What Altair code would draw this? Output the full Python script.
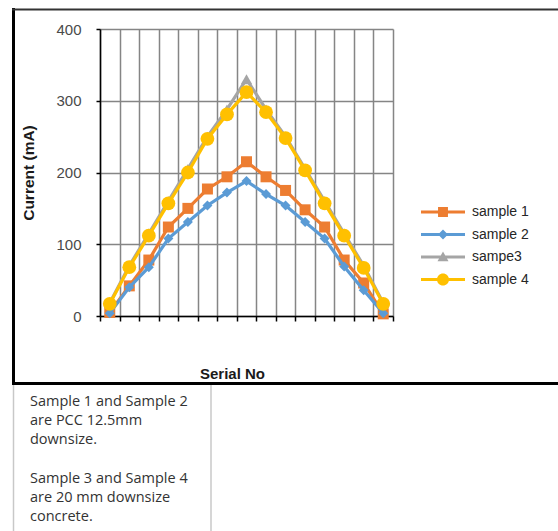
import altair as alt
import pandas as pd

serial = list(range(1, 16))
names = ["sample 1", "sample 2", "sampe3", "sample 4"]
sample1 = [5, 42, 78, 124, 150, 177, 194, 215, 194, 175, 148, 124, 78, 46, 3]
sample2 = [4, 40, 68, 108, 131, 154, 172, 188, 170, 154, 131, 108, 69, 36, 4]
sample3 = [18, 70, 115, 160, 205, 250, 288, 330, 288, 250, 205, 160, 115, 70, 18]
sample4 = [17, 68, 112, 157, 200, 247, 281, 312, 284, 248, 203, 157, 112, 67, 17]
colors = ["#ED7D31", "#5B9BD5", "#A5A5A5", "#FFC000"]
shapes = ["square", "diamond", "triangle-up", "circle"]
sizes = [121, 100, 130, 190]
y_ticks = [0, 100, 200, 300, 400]
note_block1 = ["Sample 1 and Sample 2", "are PCC 12.5mm", "downsize."]
note_block2 = ["Sample 3 and Sample 4", "are 20 mm downsize", "concrete."]

series_values = [sample1, sample2, sample3, sample4]
rows = []
for name, vals in zip(names, series_values):
    for s, v in zip(serial, vals):
        rows.append({"serial": s, "value": v, "series": name})
df = pd.DataFrame(rows)

x_grid = [i + 0.5 for i in range(0, 16)]

x_enc = alt.X(
    "serial:Q",
    scale=alt.Scale(domain=[0.5, 15.5], nice=False, zero=False),
    axis=alt.Axis(
        values=x_grid, labels=False, ticks=True, tickSize=5, tickColor="#000000",
        tickWidth=1.5, domainColor="#000000", domainWidth=1.5,
        grid=True, gridColor="#858585", gridWidth=1.5,
        title="Serial No", titleFont="Liberation Sans", titleFontSize=15,
        titleFontWeight="bold", titleColor="#1a1a1a",
        titleX=132, titleY=57, titleBaseline="middle", titleAlign="center",
    ),
)
y_enc = alt.Y(
    "value:Q",
    scale=alt.Scale(domain=[0, 400], nice=False),
    axis=alt.Axis(
        values=y_ticks, tickSize=4, tickColor="#000000", tickWidth=1.5,
        domainColor="#000000", domainWidth=1.5,
        grid=True, gridColor="#858585", gridWidth=1.5,
        labelFont="Liberation Sans", labelFontSize=15, labelColor="#4a4a4a",
        labelPadding=15,
        title="Current (mA)", titleFont="Liberation Sans", titleFontSize=15.5,
        titleFontWeight="bold", titleColor="#1a1a1a",
        titleAngle=270, titleX=-72, titleY=143.5, titleBaseline="middle",
        titleAlign="center",
    ),
)

base = alt.Chart(df)
layers = []
for name, col, shp, sz in zip(names, colors, shapes, sizes):
    sub = base.transform_filter(alt.datum.series == name)
    layers.append(sub.mark_line(color=col, strokeWidth=3.2).encode(x=x_enc, y=y_enc))
    layers.append(
        sub.mark_point(filled=True, color=col, shape=shp, size=sz, opacity=1).encode(x=x_enc, y=y_enc)
    )

# legend symbols: line + marker as custom paths
bar = "M-2,-0.14H2V0.14H-2Z "
legend_paths = [
    bar + "M-0.45,-0.45H0.45V0.45H-0.45Z",
    bar + "M0,-0.45L0.45,0L0,0.45L-0.45,0Z",
    bar + "M0,-0.5L0.5,0.38L-0.5,0.38Z",
    bar + "M0.55,0A0.55,0.55 0 1,1 -0.55,0A0.55,0.55 0 1,1 0.55,0Z",
]
leg = alt.Legend(
    title=None, orient="none", legendX=332, legendY=172,
    symbolSize=484, symbolStrokeWidth=0, symbolOpacity=1,
    labelOffset=18, labelFont="Liberation Sans", labelFontSize=14,
    labelColor="#262626", rowPadding=4.5, padding=0,
)
legend_layer = base.transform_filter(alt.datum.value < 0).mark_point(filled=True).encode(
    x=x_enc, y=y_enc,
    color=alt.Color("series:N", scale=alt.Scale(domain=names, range=colors), legend=leg),
    shape=alt.Shape("series:N", scale=alt.Scale(domain=names, range=legend_paths), legend=leg),
)
layers.append(legend_layer)

one = alt.Chart(pd.DataFrame({"a": [0]}))
text_style = dict(align="left", baseline="top", font="Open Sans", fontSize=14.5,
                  color="#333333", lineBreak="\n", lineHeight=19.2)
frame = [
    one.mark_rule(color="#000000", strokeWidth=3).encode(
        x=alt.value(-86.5), y=alt.value(-21), y2=alt.value(356)),
    one.mark_rule(color="#333333", strokeWidth=2).encode(
        x=alt.value(-88), x2=alt.value(470), y=alt.value(-19.5)),
    one.mark_rule(color="#000000", strokeWidth=3).encode(
        x=alt.value(-88), x2=alt.value(470), y=alt.value(354.5)),
    one.mark_rule(color="#c8c8c8", strokeWidth=1.5).encode(
        x=alt.value(-86.5), y=alt.value(356), y2=alt.value(510)),
    one.mark_rule(color="#c8c8c8", strokeWidth=1.5).encode(
        x=alt.value(111), y=alt.value(356), y2=alt.value(510)),
    one.mark_text(**text_style).encode(
        x=alt.value(-70), y=alt.value(366), text=alt.value("\n".join(note_block1))),
    one.mark_text(**text_style).encode(
        x=alt.value(-70), y=alt.value(443), text=alt.value("\n".join(note_block2))),
]

chart = alt.layer(*frame, *layers).properties(
    width=293, height=287,
    autosize=alt.AutoSizeParams(type="none"),
    padding={"left": 100, "top": 29, "right": 165, "bottom": 215},
    background="#ffffff",
).configure_view(stroke="transparent")

chart.save("out.html", embed_options={"renderer": "svg", "actions": False})
